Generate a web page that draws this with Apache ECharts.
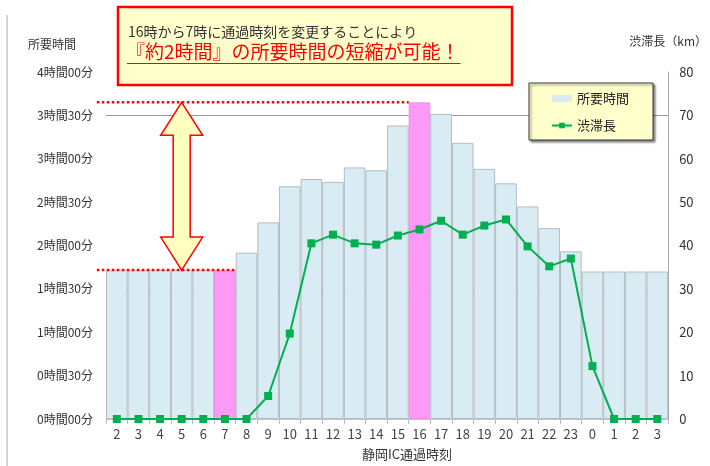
<!DOCTYPE html>
<html><head><meta charset="utf-8">
<script src="https://cdn.jsdelivr.net/npm/echarts@6/dist/echarts.min.js"></script>
<style>html,body{margin:0;padding:0;background:#fff}#c{width:710px;height:466px}</style>
</head><body><div id="c"></div>
<script>
const categories = ['2','3','4','5','6','7','8','9','10','11','12','13','14','15','16','17','18','19','20','21','22','23','0','1','2','3'];
const travelMinutes = [103,103,103,103,103,103,115,136,161,166,164,174,172,203,219,211,191,173,163,147,132,116,102,102,102,102];
const jamKm = [0,0,0,0,0,0,0,5.3,19.7,40.5,42.5,40.5,40.2,42.3,43.7,45.7,42.5,44.6,46,39.8,35.2,37,12.2,0,0,0];
const highlightIdx = [5, 14];
const leftTickLabels = ['0時間00分','0時間30分','1時間00分','1時間30分','2時間00分','2時間30分','3時間00分','3時間30分','4時間00分'];
const refLinesKm = [30, 70];
const note1 = '16時から7時に通過時刻を変更することにより';
const note2 = '『約2時間』の所要時間の短縮が可能！';

const FONT = "'Noto Sans CJK JP', 'Noto Sans', sans-serif";
const chart = echarts.init(document.getElementById('c'), null, {renderer:'canvas'});

const barData = travelMinutes.map((v, i) => highlightIdx.includes(i)
  ? {value: v, itemStyle: {color: '#ff99f8', borderColor: '#e890e0'}}
  : v);

chart.setOption({
  animation: false,
  textStyle: {fontFamily: FONT},
  grid: {left: 106, right: 39, top: 72, bottom: 46},
  legend: {
    data: [{name: '所要時間', icon: 'rect'}, {name: '渋滞長'}],
    orient: 'vertical', left: 529, top: 83,
    padding: [9, 24, 8, 22], itemGap: 14, itemWidth: 20, itemHeight: 7,
    backgroundColor: '#ffffcc', borderColor: '#333', borderWidth: 1,
    shadowColor: 'rgba(0,0,0,0.45)', shadowBlur: 2, shadowOffsetX: 2, shadowOffsetY: 2,
    textStyle: {fontFamily: FONT, fontSize: 13, color: '#222'},
    itemStyle: {borderWidth: 0}
  },
  xAxis: {
    type: 'category', data: categories,
    name: '静岡IC通過時刻', nameLocation: 'middle', nameGap: 29,
    nameTextStyle: {fontFamily: FONT, fontSize: 13, color: '#333', padding: [0, 0, 0, 40]},
    axisLine: {show: true, lineStyle: {color: '#c0c6ca'}},
    axisTick: {show: true, length: 5, lineStyle: {color: '#b4bcc2'}},
    axisLabel: {fontFamily: FONT, fontSize: 13, color: '#444', margin: 9, interval: 0}
  },
  yAxis: [{
    type: 'value', min: 0, max: 240, interval: 30,
    name: '所要時間', nameLocation: 'end', nameGap: 22,
    nameTextStyle: {fontFamily: FONT, fontSize: 12, color: '#333', padding: [0, 108, 0, 0]},
    axisLine: {show: false}, axisTick: {show: false}, splitLine: {show: false},
    axisLabel: {fontFamily: FONT, fontSize: 12, color: '#333', margin: 13,
      formatter: v => leftTickLabels[Math.round(v / 30)]}
  }, {
    type: 'value', min: 0, max: 80, interval: 10,
    name: '渋滞長（km）', nameLocation: 'end', nameGap: 25,
    nameTextStyle: {fontFamily: FONT, fontSize: 12, color: '#333'},
    axisLine: {show: true, lineStyle: {color: '#aaa'}}, axisTick: {show: false}, splitLine: {show: false},
    axisLabel: {fontFamily: FONT, fontSize: 13, color: '#333', margin: 11}
  }],
  series: [{
    name: 'ref', type: 'line', yAxisIndex: 1, data: [], z: 1, silent: true,
    markLine: {silent: true, z: 1, symbol: 'none', label: {show: false},
      lineStyle: {color: '#999', width: 1, type: 'solid'},
      data: refLinesKm.map(v => ({yAxis: v}))}
  }, {
    name: '所要時間', type: 'bar', yAxisIndex: 0, data: barData, z: 2,
    barCategoryGap: '0%', barGap: '0%',
    itemStyle: {color: '#daecf3', borderColor: '#b4bcc2', borderWidth: 1}
  }, {
    name: '渋滞長', type: 'line', yAxisIndex: 1, data: jamKm, z: 3,
    symbol: 'rect', symbolSize: 8,
    itemStyle: {color: '#00b050'}, lineStyle: {color: '#00b050', width: 2}
  }]
});

// annotation graphics anchored to data
const xC = chart.convertToPixel({xAxisIndex: 0}, 3);
const yTop = chart.convertToPixel({yAxisIndex: 0}, travelMinutes[14]);
const yBot = chart.convertToPixel({yAxisIndex: 0}, travelMinutes[5]);
const xBar16Left = (chart.convertToPixel({xAxisIndex: 0}, 13) + chart.convertToPixel({xAxisIndex: 0}, 14)) / 2;
const xBar7Right = (chart.convertToPixel({xAxisIndex: 0}, 5) + chart.convertToPixel({xAxisIndex: 0}, 6)) / 2;
const xStart = chart.convertToPixel({xAxisIndex: 0}, 0) - 20;
const hw = 21, sw = 8.5, hh = 33;
const arrowPts = [
  [xC, yTop], [xC + hw, yTop + hh], [xC + sw, yTop + hh], [xC + sw, yBot - hh], [xC + hw, yBot - hh],
  [xC, yBot], [xC - hw, yBot - hh], [xC - sw, yBot - hh], [xC - sw, yTop + hh], [xC - hw, yTop + hh]
];
const cv = document.createElement('canvas').getContext('2d');
cv.font = "19px " + FONT;
const w2 = cv.measureText(note2).width;

chart.setOption({
  graphic: [
    {type: 'line', shape: {x1: 7, y1: 15, x2: 7, y2: 466}, style: {stroke: '#aaa', lineWidth: 1}, silent: true},
    {type: 'polygon', shape: {points: arrowPts}, style: {fill: '#ffffc0', stroke: '#ff0000', lineWidth: 1.5}, z: 10},
    {type: 'line', shape: {x1: xStart, y1: yTop, x2: xBar16Left, y2: yTop},
      style: {stroke: '#ff0000', lineWidth: 2.5, lineDash: [2.5, 2.5]}, z: 11},
    {type: 'line', shape: {x1: xStart, y1: yBot, x2: xBar7Right, y2: yBot},
      style: {stroke: '#ff0000', lineWidth: 2.5, lineDash: [2.5, 2.5]}, z: 11},
    {type: 'rect', shape: {x: 118, y: 7, width: 394, height: 78},
      style: {fill: '#ffffcc', stroke: '#ff0000', lineWidth: 2.5}, z: 12},
    {type: 'text', x: 128, y: 32, style: {text: note1, font: "14px " + FONT, fill: '#333', textVerticalAlign: 'middle'}, z: 13},
    {type: 'text', x: 126, y: 52, style: {text: note2, font: "19px " + FONT, fill: '#ff0000', textVerticalAlign: 'middle'}, z: 13},
    {type: 'line', shape: {x1: 127, y1: 63.5, x2: 127 + w2, y2: 63.5}, style: {stroke: '#ff0000', lineWidth: 1.2}, z: 13}
  ]
});
</script></body></html>
